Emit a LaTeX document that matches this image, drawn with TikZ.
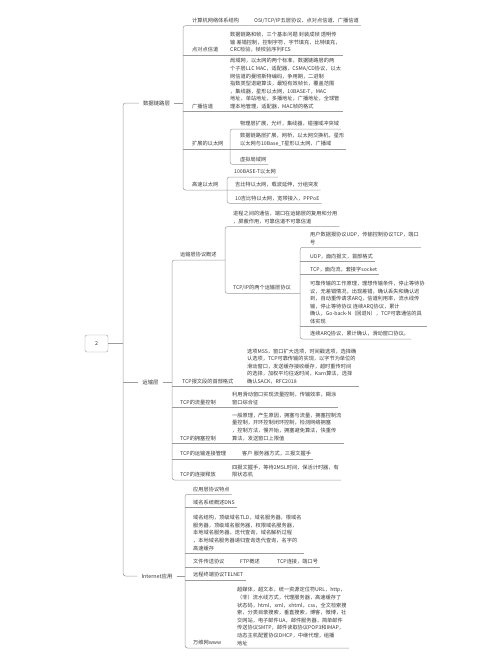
\documentclass[tikz,border=0pt]{standalone}
\usepackage{fontspec}
\setmainfont{Noto Sans CJK SC}
\definecolor{ink}{HTML}{3A3A3A}
\definecolor{wire}{HTML}{9C9C9C}
\begin{document}
\begin{tikzpicture}[x=1pt,y=-1pt,
  txt/.style={font=\fontsize{5.2}{7.6}\selectfont,text=ink,inner xsep=2pt,inner ysep=2.5pt,anchor=south west,align=left},
  lvl/.style={font=\fontsize{5.4}{7}\selectfont,text=ink,inner xsep=4pt,inner ysep=1pt},
  wire/.style={draw=wire,line width=0.5pt,rounded corners=2.5pt}]
\useasboundingbox[fill=white] (0,0) rectangle (500,667);

\coordinate (s0) at (123,0);
\coordinate (s1) at (183,0);
\coordinate (s1b) at (230,0);
\coordinate (s1c) at (227,0);
\coordinate (s2) at (172,0);
\coordinate (s2a) at (225,0);
\coordinate (s2b) at (300,0);
\coordinate (s3) at (185,0);

\node[draw=wire,rounded corners=2pt,minimum width=23pt,minimum height=17pt,font=\fontsize{5.4}{7}\selectfont,text=ink] (root) at (96.5,343.5) {2};
\node[lvl] (dll) at (156.5,103) {数据链路层};
\node[lvl] (tpl) at (150.5,382) {运输层};
\node[lvl] (app) at (157,576) {Internet应用};

\draw[wire] (dll.west) -- (s0 |- dll) -- (s0 |- app) -- (app.west);
\draw[wire] (root.east) -- (s0 |- root);
\draw[wire] (tpl.west) -- (s0 |- tpl);

% 数据链路层
\node[txt] (a1) at (190,25.7) {计算机网络体系结构};
\node[txt] (a1c) at (252,25.7) {OSI/TCP/IP五层协议、点对点信道、广播信道};
\node[txt] (a2) at (190,55) {点对点信道};
\node[txt] (a2c) at (228,55) {数据链路和帧，三个基本问题 封装成帧 透明传\\输 差错控制，控制字符，字节填充，比特填充，\\CRC检验，帧校验序列FCS};
\node[txt] (a3) at (190,111.7) {广播信道};
\node[txt] (a3c) at (228,111.7) {局域网，以太网的两个标准，数据链路层的两\\个子层LLC MAC，适配器，CSMA/CD协议，以太\\网信道的曼彻斯特编码，争用期，二进制\\指数类型退避算法，最短有效帧长，覆盖范围\\，集线器，星形以太网，10BASE-T，MAC\\地址，单站地址，多播地址，广播地址，全球管\\理本地管理，适配器，MAC帧的格式};
\node[txt] (a4) at (190,149) {扩展的以太网};
\node[txt] (b1) at (238,129) {物理层扩展，光纤，集线器，碰撞域冲突域};
\node[txt] (b2) at (238,149) {数据链路层扩展，网桥，以太网交换机，星形\\以太网与10Base\_T星形以太网，广播域};
\node[txt] (b3) at (238,164.3) {虚拟局域网};
\node[txt] (a5) at (190,190) {高速以太网};
\node[txt] (c1) at (232,177) {100BASE-T以太网};
\node[txt] (c2) at (233,190) {吉比特以太网，载波延伸，分组突发};
\node[txt] (c3) at (233,203.3) {10吉比特以太网，宽带接入，PPPoE};

\draw[wire] (dll.east) -- (s1 |- dll);
\draw[wire] (a1c.south east) -- (s1 |- a1.south) -- (s1 |- a5.south) -- (c2.south east);
\draw[wire] (s1 |- a2.south) -- (a2c.south east);
\draw[wire] (s1 |- a3.south) -- (a3c.south east);
\draw[wire] (s1 |- a4.south) -- (b2.south east);
\draw[wire] (b1.south east) -- (s1b |- b1.south) -- (s1b |- b3.south) -- (b3.south east);
\draw[wire] (c1.south east) -- (s1c |- c1.south) -- (s1c |- c3.south) -- (c3.south east);

% 运输层
\node[txt] (t1) at (178,260) {运输层协议概述};
\node[txt] (d1) at (231,226.7) {进程之间的通信，端口在运输层的复用和分用\\，屏蔽作用，可靠信道不可靠信道};
\node[txt] (d2) at (231,293.3) {TCP/IP的两个运输层协议};
\node[txt] (e1) at (308,247.3) {用户数据报协议UDP，传输控制协议TCP，端口\\号};
\node[txt] (e2) at (308,261.7) {UDP，面向报文，首部格式};
\node[txt] (e3) at (308,274.3) {TCP，面向流，套接字socket};
\node[txt] (e4) at (308,326.7) {可靠传输的工作原理，理想传输条件，停止等待协\\议，无差错情况，出现差错，确认丢失和确认迟\\到，自动重传请求ARQ，信道利用率，流水线传\\输，停止等待协议 连续ARQ协议，累计\\确认，Go-back-N（回退N），TCP可靠通信的具\\体实现};
\node[txt] (e5) at (308,339) {连续ARQ协议，累计确认，滑动窗口协议。};
\node[txt] (t2) at (180,386.7) {TCP报文段的首部格式};
\node[txt] (t2c) at (245,386.7) {选项MSS，窗口扩大选项，时间戳选项，选择确\\认选项，TCP可靠传输的实现，以字节为单位的\\滑动窗口，发送缓存接收缓存，超时重传时间\\的选择，加权平均往返时间，Karn算法，选择\\确认SACK，RFC2018};
\node[txt] (t3) at (178,407.3) {TCP的流量控制};
\node[txt] (t3c) at (230,407.3) {利用滑动窗口实现流量控制，传输效率，糊涂\\窗口综合征};
\node[txt] (t4) at (178,443.3) {TCP的拥塞控制};
\node[txt] (t4c) at (230,443.3) {一般原理，产生原因，拥塞与流量，拥塞控制流\\量控制，开环控制闭环控制，检测网络拥塞\\，控制方法，慢开始，拥塞避免算法，快重传\\算法，发送窗口上限值};
\node[txt] (t5) at (178,459) {TCP的运输连接管理};
\node[txt] (t5c) at (240,459) {客户 服务器方式，三报文握手};
\node[txt] (t6) at (178,480) {TCP的连接释放};
\node[txt] (t6c) at (230,480) {四报文握手，等待2MSL时间，保活计时器，有\\限状态机};

\draw[wire] (tpl.east) -- (s2 |- tpl);
\draw[wire] (s2a |- t1.south) -- (s2 |- t1.south) -- (s2 |- t6.south) -- (t6c.south east);
\draw[wire] (d1.south east) -- (s2a |- d1.south) -- (s2a |- d2.south) -- (s2b |- d2.south);
\draw[wire] (e1.south east) -- (s2b |- e1.south) -- (s2b |- e5.south) -- (e5.south east);
\draw[wire] (s2b |- e2.south) -- (e2.south east);
\draw[wire] (s2b |- e3.south) -- (e3.south east);
\draw[wire] (s2b |- e4.south) -- (e4.south east);
\draw[wire] (s2 |- t2.south) -- (t2c.south east);
\draw[wire] (s2 |- t3.south) -- (t3c.south east);
\draw[wire] (s2 |- t4.south) -- (t4c.south east);
\draw[wire] (s2 |- t5.south) -- (t5c.south east);

% Internet应用
\node[txt] (i1) at (191,494.3) {应用层协议特点};
\node[txt] (i2) at (191,507.3) {域名系统概述DNS};
\node[txt] (i2c) at (191,553.3) {域名结构，顶级域名TLD，域名服务器，根域名\\服务器，顶级域名服务器，权限域名服务器，\\本地域名服务器，迭代查询，域名解析过程\\，本地域名服务器递归查询迭代查询，名字的\\高速缓存};
\node[txt] (i3) at (191,567) {文件传送协议};
\node[txt] (i3a) at (238,567) {FTP概述};
\node[txt] (i3b) at (275,567) {TCP连接，端口号};
\node[txt] (i4) at (191,580) {远程终端协议TELNET};
\node[txt] (i5) at (191,648) {万维网www};
\node[txt] (i5c) at (235,648) {超媒体，超文本，统一资源定位符URL，http，\\（非）流水线方式，代理服务器，高速缓存了\\状态码，html，xml，xhtml，css，全文检索搜\\索，分类目录搜索，垂直搜索，博客，微博，社\\交网站，电子邮件UA，邮件服务器，简单邮件\\传送协议SMTP，邮件读取协议POP3和IMAP，\\动态主机配置协议DHCP，中继代理，组播\\地址};

\draw[wire] (app.east) -- (s3 |- app);
\draw[wire] (i1.south east) -- (s3 |- i1.south) -- (s3 |- i5.south) -- (i5c.south east);
\draw[wire] (s3 |- i2.south) -- (i2.south east);
\draw[wire] (s3 |- i2c.south) -- (i2c.south east);
\draw[wire] (s3 |- i3.south) -- (i3b.south east);
\draw[wire] (s3 |- i4.south) -- (i4.south east);
\end{tikzpicture}
\end{document}
